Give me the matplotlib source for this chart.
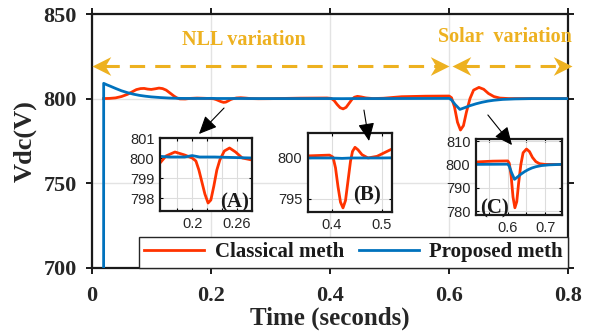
import numpy as np
import matplotlib
matplotlib.use('Agg')
import matplotlib.pyplot as plt
from matplotlib.path import Path
from matplotlib.patches import FancyArrowPatch

# values
t_classical = [0.02, 0.03, 0.04, 0.05, 0.06, 0.068, 0.075, 0.082, 0.088, 0.094,
               0.10, 0.107, 0.113, 0.119, 0.125, 0.131, 0.138, 0.143, 0.148, 0.157,
               0.165, 0.177, 0.19, 0.2, 0.205, 0.209, 0.213, 0.217, 0.2213, 0.225,
               0.229, 0.233, 0.237, 0.243, 0.25, 0.258, 0.267, 0.28, 0.3, 0.35,
               0.395, 0.402, 0.407, 0.412, 0.417, 0.422, 0.427, 0.432, 0.437, 0.441,
               0.446, 0.452, 0.46, 0.472, 0.49, 0.52, 0.56, 0.6, 0.604, 0.609,
               0.614, 0.619, 0.624, 0.629, 0.635, 0.641, 0.65, 0.658, 0.666, 0.675,
               0.685, 0.7, 0.75, 0.8]
v_classical = [800.0, 800.1, 800.4, 801.2, 802.5, 804.0, 805.3, 805.9, 806.0, 805.6,
               805.4, 805.8, 806.2, 805.9, 805.0, 803.4, 801.5, 800.4, 799.8, 799.75,
               800.1, 800.3, 800.15, 800.0, 799.85, 799.4, 798.8, 798.2, 797.75, 797.9,
               798.6, 799.4, 799.9, 800.35, 800.5, 800.3, 800.0, 799.9, 799.95, 800.25,
               800.35, 800.1, 798.8, 796.5, 794.6, 793.9, 794.8, 797.2, 799.6, 800.8,
               801.3, 801.0, 800.4, 800.0, 800.2, 801.1, 801.4, 801.5, 800.5, 795.0,
               786.0, 781.4, 784.0, 792.0, 800.0, 805.0, 806.6, 805.5, 803.0, 801.2,
               800.3, 800.0, 800.0, 800.0]

t_proposed = [0.02, 0.0201, 0.025, 0.03, 0.04, 0.05, 0.06, 0.07, 0.08, 0.09,
              0.1, 0.115, 0.13, 0.15, 0.17, 0.19, 0.2, 0.21, 0.23, 0.28,
              0.35, 0.4, 0.42, 0.44, 0.5, 0.6, 0.604, 0.61, 0.618, 0.626,
              0.635, 0.645, 0.655, 0.665, 0.675, 0.69, 0.71, 0.74, 0.8]
v_proposed = [700.0, 809.0, 808.2, 807.5, 806.0, 804.6, 803.5, 802.6, 801.9, 801.4,
              801.0, 800.6, 800.3, 800.1, 800.05, 800.05, 800.12, 800.05, 800.05, 800.0,
              800.0, 800.0, 799.95, 800.0, 800.0, 800.1, 799.2, 796.5, 793.6, 794.6,
              795.8, 796.9, 797.8, 798.5, 799.0, 799.5, 799.8, 800.0, 800.0]

legend_labels = ['Classical meth', 'Proposed meth']
x_ticks = [0, 0.2, 0.4, 0.6, 0.8]
x_ticklabels = ['0', '0.2', '0.4', '0.6', '0.8']
y_ticks = [700, 750, 800, 850]

region_labels = ['NLL variation', 'Solar  variation']
region_spans = [(0.0, 0.6), (0.605, 0.807)]

inset_names = ['(A)', '(B)', '(C)']
inset_xlims = [(0.157, 0.28), (0.352, 0.52), (0.515, 0.745)]
inset_ylims = [(797.35, 801.0), (793.4, 803.05), (778.3, 810.9)]
inset_xticks = [[0.18, 0.2, 0.22, 0.24, 0.26], [0.4, 0.5], [0.55, 0.6, 0.65, 0.7]]
inset_xticklabels = [['', '0.2', '', '', '0.26'], ['0.4', '0.5'], ['', '0.6', '', '0.7']]
inset_yticks = [[798, 799, 800, 801], [795, 800], [780, 790, 800, 810]]

RED = '#FF3300'
BLUE = '#0072BD'
ORANGE = '#EDB120'
SERIF = 'Liberation Serif'
SANS = 'Liberation Sans'

W, H = 595, 335


def px_box(x0, y0, x1, y1):
    """pixel box (top-left origin) -> figure fraction rect"""
    return [x0 / W, (H - y1) / H, (x1 - x0) / W, (y1 - y0) / H]


fig = plt.figure(figsize=(W / 100, H / 100), dpi=100)
ax = fig.add_axes(px_box(91.7, 14, 568.3, 267.7))

line_c, = ax.plot(t_classical, v_classical, color=RED, lw=2.0, zorder=3)
line_p, = ax.plot(t_proposed, v_proposed, color=BLUE, lw=2.0, zorder=4)

ax.set_xlim(0, 0.8)
ax.set_ylim(700, 850)
ax.set_xticks(x_ticks)
ax.set_xticklabels(x_ticklabels)
ax.set_yticks(y_ticks)
ax.grid(True, color='#e3e3e3', lw=1.0)
ax.set_axisbelow(True)
for s in ax.spines.values():
    s.set_linewidth(1.6)
    s.set_color('#1a1a1a')
ax.tick_params(direction='out', length=4.5, width=1.4, top=True, right=True,
               labelsize=16, color='#1a1a1a')
ax.tick_params(axis='x', pad=9)
ax.tick_params(axis='y', pad=6)
for lab in ax.get_xticklabels() + ax.get_yticklabels():
    lab.set_fontfamily(SERIF)
    lab.set_fontweight('bold')
    lab.set_color('#262626')

ax.set_xlabel('Time (seconds)', fontsize=18, fontweight='bold', family=SERIF,
              color='#262626', va='top')
ax.xaxis.set_label_coords(0.5, -0.153)
ax.set_ylabel('Vdc(V)', fontsize=19, fontweight='bold', family=SERIF, color='#262626')
ax.yaxis.set_label_coords(-0.115, 0.5)

# orange double arrows marking the two disturbance periods
head_r = Path([(0, 0), (-1, 0.5), (-0.7, 0), (-1, -0.5), (0, 0)],
              [Path.MOVETO, Path.LINETO, Path.LINETO, Path.LINETO, Path.CLOSEPOLY])
head_l = Path([(0, 0), (1, 0.5), (0.7, 0), (1, -0.5), (0, 0)],
              [Path.MOVETO, Path.LINETO, Path.LINETO, Path.LINETO, Path.CLOSEPOLY])
arrow_level = 819.4
for x0, x1 in region_spans:
    ax.plot([x0 + 0.02, x1 - 0.02], [arrow_level, arrow_level], color=ORANGE, lw=2.2,
            dashes=(5, 3.3), clip_on=False, zorder=5)
    ax.plot([x0], [arrow_level], marker=head_l, ms=27, color=ORANGE, mew=0,
            clip_on=False, zorder=6)
    ax.plot([x1], [arrow_level], marker=head_r, ms=27, color=ORANGE, mew=0,
            clip_on=False, zorder=6)

ax.text(0.255, 834.6, region_labels[0], color=ORANGE, fontsize=14.5,
        fontweight='bold', family=SERIF, ha='center', va='center')
ax.text(0.694, 836.4, region_labels[1], color=ORANGE, fontsize=14.5,
        fontweight='bold', family=SERIF, ha='center', va='center')

# zoomed insets
inset_boxes = [px_box(160, 138, 252, 211), px_box(308, 133, 392, 212),
               px_box(476, 139, 562, 215)]
name_pos = [(0.815, 0.11), (0.708, 0.21), (0.21, 0.09)]
for i in range(3):
    ia = fig.add_axes(inset_boxes[i])
    ia.plot(t_classical, v_classical, color=RED, lw=2.0)
    ia.plot(t_proposed, v_proposed, color=BLUE, lw=2.0)
    ia.set_xlim(*inset_xlims[i])
    ia.set_ylim(*inset_ylims[i])
    ia.set_xticks(inset_xticks[i])
    ia.set_xticklabels(inset_xticklabels[i])
    ia.set_yticks(inset_yticks[i])
    ia.grid(True, color='#dddddd', lw=0.8)
    ia.set_axisbelow(True)
    for s in ia.spines.values():
        s.set_linewidth(1.6)
        s.set_color('#1a1a1a')
    ia.tick_params(direction='in', length=2.5, width=0.8, top=True, right=True,
                   labelsize=10.5, pad=4, labelcolor='#262626')
    for lab in ia.get_xticklabels() + ia.get_yticklabels():
        lab.set_fontfamily(SANS)
    ia.text(name_pos[i][0], name_pos[i][1], inset_names[i], transform=ia.transAxes,
            fontsize=15, fontweight='bold', family=SERIF, ha='center', va='center',
            color='#1a1a1a')

# black pointer arrows towards the insets (main-axis data coordinates)
pointer_from = [(0.2221, 794.4), (0.457, 793.2), (0.665, 790.3)]
pointer_to = [(0.180, 779.05), (0.4655, 774.9), (0.7055, 772.5)]
for p0, p1 in zip(pointer_from, pointer_to):
    arr = FancyArrowPatch(p0, p1, transform=ax.transData,
                          arrowstyle='-|>,head_length=1.1,head_width=0.5',
                          mutation_scale=10, lw=0.8, color='black',
                          shrinkA=0, shrinkB=0, zorder=10)
    fig.add_artist(arr)

# legend on the figure so it sits above the insets
ax_pos = ax.get_position()
leg = fig.legend([line_c, line_p], legend_labels, loc='lower right',
                 bbox_to_anchor=(ax_pos.x1, ax_pos.y0), ncol=2,
                 prop={'family': SERIF, 'weight': 'bold', 'size': 15},
                 frameon=True, fancybox=False, framealpha=1, edgecolor='#262626',
                 borderaxespad=0, handlelength=2.9, handletextpad=0.5,
                 columnspacing=0.7, borderpad=0.25)
leg.get_frame().set_linewidth(1.0)
for txt in leg.get_texts():
    txt.set_color('#1a1a1a')

fig.savefig('out.png', dpi=100)
